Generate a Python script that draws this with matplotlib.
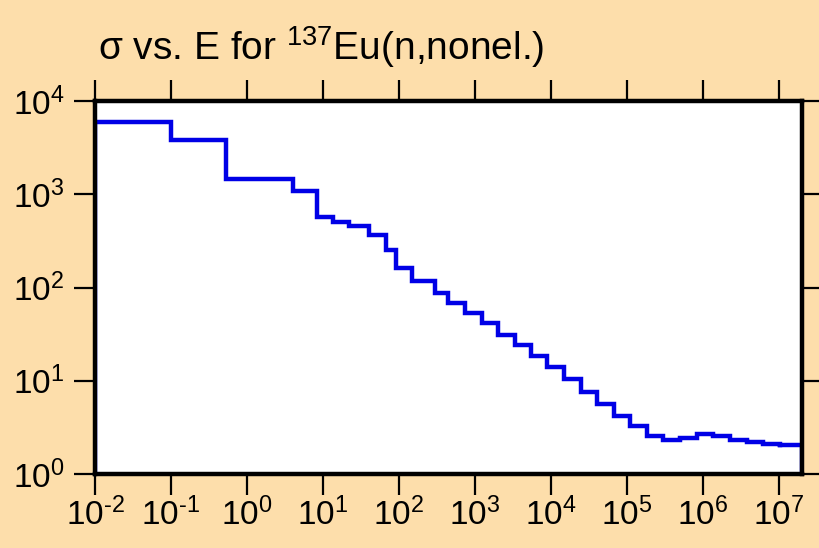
import numpy as np
import matplotlib
matplotlib.use("Agg")
import matplotlib.pyplot as plt
from matplotlib.ticker import LogLocator, FuncFormatter, NullLocator

# group boundaries (eV) and cross section per group (b)
edges = [0.01, 0.1, 0.53, 4.0, 8.3, 13.7, 22.2, 40, 67, 91, 147, 298, 446, 738,
         1224, 2028, 3358, 5460, 8935, 14800, 24500, 40600, 66400, 1.1e5, 1.82e5,
         3.0e5, 5.0e5, 8.3e5, 1.37e6, 2.27e6, 3.76e6, 6.2e6, 1.02e7, 2.0e7]
sigma = [6000, 3800, 1450, 1080, 575, 508, 453, 363, 254, 161, 116, 88, 69, 53,
         41.6, 31, 24.2, 18.3, 13.9, 10.4, 7.6, 5.7, 4.2, 3.27, 2.56, 2.32, 2.45,
         2.69, 2.54, 2.33, 2.19, 2.1, 2.03]
title = "σ vs. E for $^{137}$Eu(n,nonel.)"

bg = "#FDDEAB"
plt.rcParams['font.family'] = ['Liberation Sans', 'DejaVu Sans']
plt.rcParams['mathtext.default'] = 'regular'

# power-of-ten labels with a plain hyphen for the minus, like the original
def pow10(v, pos):
    e = int(round(np.log10(v)))
    return "10$^{" + str(e).replace('-', '\u2010') + "}$"

fig = plt.figure(figsize=(8.2, 5.48), dpi=100, facecolor=bg)
ax = fig.add_axes([95/820, 1-474/548, (802-95)/820, (474-101)/548])

# step outline, closed down to the bottom on both ends
x = np.array(edges)
y = np.concatenate([[0.5], sigma])
xs = np.concatenate([[x[0]], x[:-1]])
ax.step(xs, y, where='post', color='#0000E6', lw=3.2, solid_joinstyle='miter')
ax.plot([x[-2], x[-1], x[-1]], [sigma[-1], sigma[-1], 0.5], color='#0000E6', lw=3.2,
        solid_joinstyle='miter')

ax.set_xscale('log')
ax.set_yscale('log')
ax.set_xlim(0.01, 2.0e7)
ax.set_ylim(1, 1e4)

ax.xaxis.set_major_locator(LogLocator(base=10, numticks=20))
ax.yaxis.set_major_locator(LogLocator(base=10, numticks=20))
ax.xaxis.set_minor_locator(NullLocator())
ax.yaxis.set_minor_locator(NullLocator())
ax.xaxis.set_major_formatter(FuncFormatter(pow10))
ax.yaxis.set_major_formatter(FuncFormatter(pow10))

ax.tick_params(which='major', direction='out', length=15, width=1.6,
               top=True, right=True, labelsize=24, color='black')
ax.tick_params(axis='x', pad=2)
ax.tick_params(axis='y', pad=7)
for s in ax.spines.values():
    s.set_linewidth(3.2)
    s.set_color('black')

fig.text(98/820, 1-60/548, title, fontsize=28, ha='left', va='baseline')

fig.savefig("out.png", dpi=100, facecolor=bg)
